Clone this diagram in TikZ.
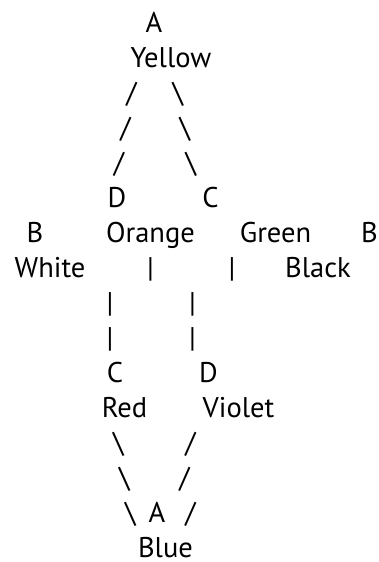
\documentclass[tikz,border=0pt]{standalone}
\usepackage{fontspec}
\setmainfont{PT Sans}
\begin{document}
\begin{tikzpicture}[x=1pt,y=-1pt,
  txt/.style={anchor=base,inner sep=0pt,outer sep=0pt,font=\fontsize{28.5}{28.5}\selectfont}]
\useasboundingbox (0,0) rectangle (379,562);
\def\rr#1{\fpeval{32+35.05*#1}}
% row 0-1
\node[txt] (aTop)   at (154,{\rr{0}}) {A};
\node[txt] (yellow) at (171,{\rr{1}}) {Yellow};
% rows 2-4
\node[txt] (l1) at (131.5,{\rr{2}}) {/};
\node[txt] (r1) at (178,{\rr{2}}) {\textbackslash};
\node[txt] (l2) at (125.5,{\rr{3}}) {/};
\node[txt] (r2) at (185,{\rr{3}}) {\textbackslash};
\node[txt] (l3) at (119,{\rr{4}}) {/};
\node[txt] (r3) at (191,{\rr{4}}) {\textbackslash};
% row 5
\node[txt] (dTop) at (117,{\rr{5}}) {D};
\node[txt] (cTop) at (210.5,{\rr{5}}) {C};
% row 6
\node[txt] (bLeft)  at (35,{\rr{6}}) {B};
\node[txt] (orange) at (150.5,{\rr{6}}) {Orange};
\node[txt] (green)  at (275.5,{\rr{6}}) {Green};
\node[txt] (bRight) at (369.5,{\rr{6}}) {B};
% row 7
\node[txt] (white) at (50,{\rr{7}}) {White};
\node[txt] (p1)    at (150.5,{\rr{7}}) {|};
\node[txt] (p2)    at (232,{\rr{7}}) {|};
\node[txt] (black) at (318,{\rr{7}}) {Black};
% rows 8-9
\node[txt] (p3) at (110,{\rr{8}}) {|};
\node[txt] (p4) at (192.5,{\rr{8}}) {|};
\node[txt] (p5) at (110,{\rr{9}}) {|};
\node[txt] (p6) at (192.5,{\rr{9}}) {|};
% row 10-11
\node[txt] (cBot) at (115,{\rr{10}}) {C};
\node[txt] (dBot) at (208.5,{\rr{10}}) {D};
\node[txt] (red)    at (124.5,{\rr{11}}) {Red};
\node[txt] (violet) at (238.5,{\rr{11}}) {Violet};
% rows 12-14
\node[txt] (bl1) at (118.5,{\rr{12}}) {\textbackslash};
\node[txt] (br1) at (190.5,{\rr{12}}) {/};
\node[txt] (bl2) at (124.5,{\rr{13}}) {\textbackslash};
\node[txt] (br2) at (184.5,{\rr{13}}) {/};
\node[txt] (bl3) at (130.5,{\rr{14}}) {\textbackslash};
\node[txt] (aBot) at (157,{\rr{14}}) {A};
\node[txt] (br3) at (190.5,{\rr{14}}) {/};
% row 15
\node[txt] (blue) at (165.5,{\rr{15}}) {Blue};
\end{tikzpicture}
\end{document}
